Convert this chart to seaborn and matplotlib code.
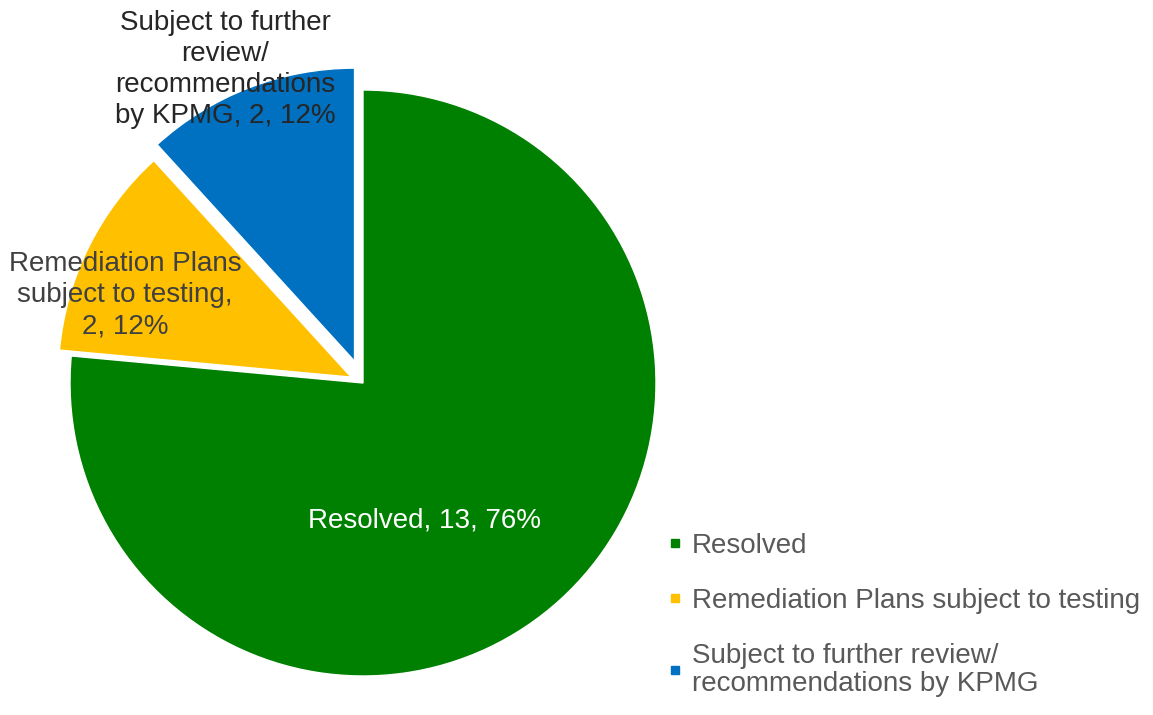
import matplotlib
matplotlib.use("Agg")
import matplotlib.pyplot as plt
from matplotlib.lines import Line2D
import seaborn as sns

CATEGORIES = [
    "Resolved",
    "Remediation Plans subject to testing",
    "Subject to further review/\nrecommendations by KPMG",
]
COUNTS = [13, 2, 2]
PERCENTS = ["76%", "12%", "12%"]
LABEL_TEXTS = [
    "Resolved, 13, 76%",
    "Remediation Plans\nsubject to testing,\n2, 12%",
    "Subject to further\nreview/\nrecommendations\nby KPMG, 2, 12%",
]
COLORS = ["#008000", "#FFC000", "#0070C0"]

sns.set_theme(style="white")
plt.rcParams["font.family"] = ["Liberation Sans", "DejaVu Sans"]

W, H = 1153, 715
fig = plt.figure(figsize=(W / 100, H / 100), dpi=100)
ax = fig.add_axes([0, 0, 1, 1])

wedges, _ = ax.pie(
    COUNTS,
    colors=COLORS,
    startangle=90,
    counterclock=False,
    explode=[0, 0.045, 0.08],
    radius=1.0,
)
for w in wedges:
    w.set_clip_on(False)

# pixel layout: pie centre and radius in pixels
cx, cy, r = 363, 383, 293
ax.set_xlim(-cx / r, (W - cx) / r)
ax.set_ylim(-(H - cy) / r, cy / r)
ax.set_aspect("equal", adjustable="box")
ax.axis("off")

label_pos = [(0.21, -0.47), (-0.812, 0.30), (-0.471, 1.07)]
label_colors = ["white", "#404040", "#262626"]
for txt, (x, y), c in zip(LABEL_TEXTS, label_pos, label_colors):
    ax.text(x, y, txt, ha="center", va="center", fontsize=20, color=c,
            linespacing=1.25)

handles = [Line2D([], [], marker="s", linestyle="none", markersize=6,
                  markerfacecolor=c, markeredgecolor=c) for c in COLORS]
leg = ax.legend(handles, CATEGORIES, loc="upper left",
                bbox_to_anchor=(668 / W, 1 - 533 / H),
                frameon=False, fontsize=20, labelcolor="#595959", handlelength=0.5,
                handletextpad=0.35, labelspacing=1.05, borderaxespad=0, borderpad=0)
for t in leg.get_texts():
    t.set_linespacing(1.08)

fig.savefig("out.png", dpi=100)
